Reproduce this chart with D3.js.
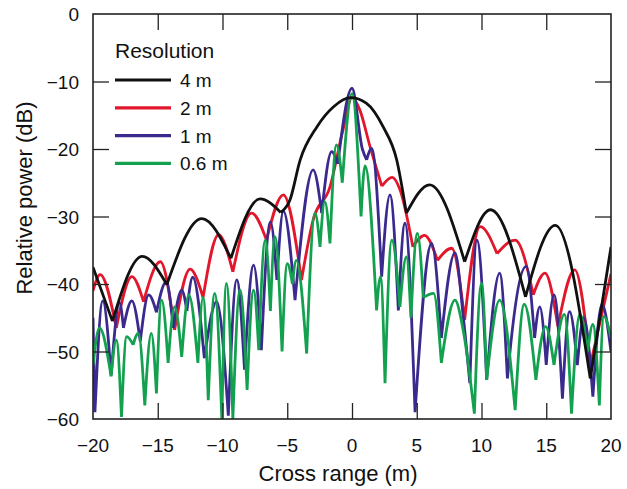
<!doctype html>
<html>
<head>
<meta charset="utf-8">
<title>Relative power vs cross range</title>
<script src="https://cdn.jsdelivr.net/npm/d3@7"></script>
<style>
  body { margin: 0; background: #fff; }
  text { font-family: "Liberation Sans", Arial, Helvetica, sans-serif; fill: #111; }
</style>
</head>
<body>
<div id="chart"></div>
<script>
// [cross range (m), relative power (dB)]: peaks and nulls
var res4m = [[-20,-37.5],[-18.5,-45.5],[-16.2,-35.9],[-14.3,-40.1],[-11.6,-30.3],[-9.35,-36.2],
  [-7.1,-27.4],[-5.5,-29.4],[-4.8,-27.6],[-4.0,-21.6],[-2.7,-16.7],[-1.4,-13.7],[-0.1,-12.4],
  [1.1,-13.2],[2.4,-16.7],[3.45,-21.6],[4.2,-29.5],[6.0,-25.3],[8.7,-36.7],[10.7,-29.0],
  [13.4,-41.9],[15.7,-31.3],[18.4,-54],[20,-34.5]];

var res2m = [[-20,-41],[-19.45,-38.6],[-18.2,-46.5],[-17.0,-38.9],[-16.1,-42.6],[-14.8,-36.7],
  [-13.7,-46.8],[-12.5,-37.8],[-11.5,-42],[-10.3,-32.7],[-9.2,-38.2],[-7.75,-29.5],[-6.6,-33.5],
  [-5.3,-26.8],[-3.9,-39.4],[-3.0,-30.5],[-1.7,-25.6],[-0.7,-17.2],[0,-12.4],[0.6,-14.2],
  [1.4,-19.7],[2.3,-25.5],[3.1,-24.2],[3.7,-26],[4.7,-34.5],[5.6,-32.8],[6.6,-36.5],[7.7,-34.7],
  [8.7,-45.3],[9.9,-31.5],[11.2,-35.5],[12.6,-33.5],[14.0,-41.6],[14.9,-38.4],[15.9,-46.3],
  [17.2,-37.9],[18.4,-52],[20,-38.5]];

var res1m = [[-20,-45],[-19.85,-59],[-19.25,-42.5],[-18.6,-53.5],[-17.95,-42.8],[-17.65,-46.5],
  [-17.0,-42.5],[-16.35,-48.5],[-15.7,-41.6],[-15.1,-44.2],[-14.35,-39.7],[-13.8,-46.5],
  [-13.15,-40.9],[-12.75,-44],[-12.3,-39],[-11.4,-51],[-10.45,-42.6],[-9.55,-59.5],[-8.9,-39.4],
  [-8.3,-52.7],[-7.6,-37.2],[-7.0,-49.8],[-6.3,-30.8],[-5.8,-39.4],[-5.3,-29.2],[-4.4,-42.4],
  [-3.0,-23.1],[-2.34,-29.5],[-1.57,-20.4],[-1.1,-22.2],[0,-11],[0.8,-20],[1.13,-21.6],
  [1.52,-19.9],[2.29,-38.9],[2.93,-26.8],[3.58,-43.9],[4.09,-31],[4.87,-59],[6.15,-34],
  [6.9,-48],[7.95,-35.4],[8.6,-45],[9.1,-54.7],[9.65,-33.5],[10.4,-54.2],[11.4,-38.4],
  [12.0,-54],[12.2,-50],[13.45,-37.4],[14.1,-48],[14.5,-43.4],[15.0,-52],[15.6,-41.6],
  [16.25,-57],[16.8,-44.1],[17.4,-52],[17.9,-45],[18.6,-56.7],[19.3,-43],[20,-50]];

var res06m = [[-20,-52],[-19.5,-46.5],[-18.6,-53.7],[-18.2,-48.3],[-17.8,-59.7],[-17.4,-47.8],
  [-16.9,-49],[-16.5,-47.3],[-16.0,-58],[-15.5,-47.3],[-15.1,-56.2],[-14.7,-42.4],[-14.2,-51.7],
  [-13.7,-43.4],[-13.15,-50.8],[-12.6,-41.6],[-11.9,-51.7],[-11.5,-42],[-11.1,-57.2],[-10.6,-41.4],
  [-10.05,-60],[-9.7,-39.9],[-9.2,-60],[-8.65,-40.9],[-8.1,-55.7],[-7.6,-40.9],[-7.2,-49.8],
  [-6.7,-33.5],[-6.3,-44],[-5.95,-33],[-5.4,-50],[-5.0,-37],[-4.6,-40],[-4.3,-36.5],[-3.5,-50.3],
  [-2.86,-29.5],[-2.47,-34.5],[-2.1,-27.8],[-1.7,-34],[-1.2,-19.4],[-0.75,-25],[0,-11.8],
  [0.7,-30],[1.0,-22.5],[1.9,-43.9],[2.2,-38.9],[2.55,-54.7],[3.07,-33.5],[3.7,-43.4],
  [4.2,-36],[4.55,-45],[5.05,-32.5],[5.5,-42],[6.3,-41.4],[6.9,-51.7],[7.95,-42.4],[8.6,-47],
  [9.45,-59.2],[10.0,-39.9],[10.4,-54.2],[11.4,-42.4],[12.6,-58.7],[13.3,-43],[14.2,-54.2],
  [14.95,-46.3],[15.6,-52],[16.4,-44.5],[16.95,-59.2],[17.6,-44.5],[18.2,-50],[18.6,-46],
  [19.1,-58],[19.45,-44.8],[20,-48]];

var seriesNames = ["4 m", "2 m", "1 m", "0.6 m"];
var seriesData = [res4m, res2m, res1m, res06m];
var seriesColors = ["#111111", "#e2172c", "#3a2a8e", "#13a150"];
var drawOrder = [1, 2, 3, 0];   // red, blue, green, then black on top

var xTicks = [-20, -15, -10, -5, 0, 5, 10, 15, 20];
var yTicks = [0, -10, -20, -30, -40, -50, -60];

var W = 627, H = 489;
var margin = { left: 93, right: 16, top: 14, bottom: 70 };
var width = W - margin.left - margin.right,
    height = H - margin.top - margin.bottom;

var svg = d3.select("#chart").append("svg").attr("width", W).attr("height", H);
svg.append("rect").attr("width", W).attr("height", H).attr("fill", "#fff");

var g = svg.append("g").attr("transform", "translate(" + margin.left + "," + margin.top + ")");

var x = d3.scaleLinear().domain([-20, 20]).range([0, width]);
var y = d3.scaleLinear().domain([-60, 0]).range([height, 0]);

g.append("clipPath").attr("id", "clip")
  .append("rect").attr("width", width).attr("height", height);

// Curves: each lobe runs from one null to the next, so nulls stay sharp
var line = d3.line()
  .x(function(d) { return x(d[0]); })
  .y(function(d) { return y(d[1]); })
  .curve(d3.curveMonotoneX);

function lobes(data) {
  var out = [], cur = [data[0]];
  for (var i = 1; i < data.length; i++) {
    cur.push(data[i]);
    if (i < data.length - 1 && data[i][1] < data[i - 1][1] && data[i][1] < data[i + 1][1]) {
      out.push(cur);
      cur = [data[i]];
    }
  }
  out.push(cur);
  return out;
}

var curves = g.append("g").attr("clip-path", "url(#clip)");
drawOrder.forEach(function(i) {
  curves.append("path")
    .attr("fill", "none")
    .attr("stroke", seriesColors[i])
    .attr("stroke-width", 2.8)
    .attr("stroke-linejoin", "round")
    .attr("d", lobes(seriesData[i]).map(function(s) { return line(s); }).join(""));
});

// Axes: ticks pointing inward on all four sides
var inner = xTicks.slice(1, -1);
var innerY = yTicks.slice(1, -1);
var tickLen = 16;

g.append("g").attr("transform", "translate(0," + height + ")")
  .call(d3.axisBottom(x).tickValues(inner).tickSizeInner(-tickLen).tickSizeOuter(0).tickFormat(""));
g.append("g")
  .call(d3.axisTop(x).tickValues(inner).tickSizeInner(-tickLen).tickSizeOuter(0).tickFormat(""));
g.append("g")
  .call(d3.axisLeft(y).tickValues(innerY).tickSizeInner(-tickLen).tickSizeOuter(0).tickFormat(""));
g.append("g").attr("transform", "translate(" + width + ",0)")
  .call(d3.axisRight(y).tickValues(innerY).tickSizeInner(-tickLen).tickSizeOuter(0).tickFormat(""));
g.selectAll(".domain").remove();
g.selectAll(".tick line").attr("stroke", "#222").attr("stroke-width", 1.3);

g.append("rect").attr("width", width).attr("height", height)
  .attr("fill", "none").attr("stroke", "#222").attr("stroke-width", 1.6);

function fmt(v) { return v < 0 ? "\u2212" + Math.abs(v) : String(v); }

// Tick labels
g.selectAll(".xlab").data(xTicks).enter().append("text")
  .attr("x", function(d) { return x(d); })
  .attr("y", height + 33)
  .attr("text-anchor", "middle")
  .attr("font-size", "19px")
  .text(fmt);

g.selectAll(".ylab").data(yTicks).enter().append("text")
  .attr("x", -14)
  .attr("y", function(d) { return y(d) + 7; })
  .attr("text-anchor", "end")
  .attr("font-size", "19px")
  .text(fmt);

// Axis titles
g.append("text").attr("x", 245).attr("y", height + 62)
  .attr("text-anchor", "middle").attr("font-size", "22px").text("Cross range (m)");
g.append("text").attr("transform", "rotate(-90)")
  .attr("x", -184).attr("y", -61)
  .attr("text-anchor", "middle").attr("font-size", "22px").text("Relative power (dB)");

// Legend
var legend = g.append("g").attr("transform", "translate(22,44)");
legend.append("text").attr("x", 0).attr("y", 0).attr("font-size", "21px").text("Resolution");
seriesNames.forEach(function(name, i) {
  var row = legend.append("g").attr("transform", "translate(0," + (22 + i * 27.8) + ")");
  row.append("line").attr("x1", 0).attr("x2", 56).attr("y1", 0).attr("y2", 0)
    .attr("stroke", seriesColors[i]).attr("stroke-width", 3.2);
  row.append("text").attr("x", 65).attr("y", 7).attr("font-size", "19px").text(name);
});
</script>
</body>
</html>
